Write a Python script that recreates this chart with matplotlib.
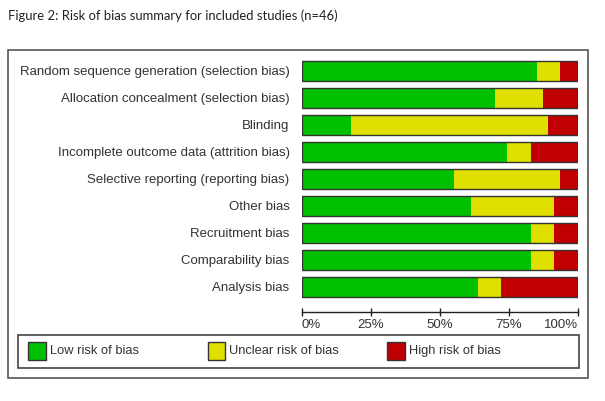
"""
Risk of bias summary (RevMan-style stacked bars) for included studies.
"""

import matplotlib
matplotlib.use('Agg')
import matplotlib.pyplot as plt
from matplotlib.patches import Rectangle

# Domains, top to bottom
domains = [
    'Random sequence generation (selection bias)',
    'Allocation concealment (selection bias)',
    'Blinding',
    'Incomplete outcome data (attrition bias)',
    'Selective reporting (reporting bias)',
    'Other bias',
    'Recruitment bias',
    'Comparability bias',
    'Analysis bias',
]

# Percent of studies per judgement
low_risk = [85.1, 70.0, 17.6, 74.3, 55.1, 61.2, 82.8, 82.8, 63.6]
unclear_risk = [8.5, 17.2, 71.4, 8.5, 38.5, 30.2, 8.6, 8.6, 8.5]
high_risk = [6.4, 12.8, 11.0, 17.2, 6.4, 8.6, 8.6, 8.6, 27.9]

categories = ['Low risk of bias', 'Unclear risk of bias', 'High risk of bias']
colors = ['#00c000', '#e0e000', '#c00000']

x_ticks = [0, 25, 50, 75, 100]
x_ticklabels = ['0%', '25%', '50%', '75%', '100%']

W, H = 605, 401
fig = plt.figure(figsize=(W / 100, H / 100), dpi=100)
fig.patch.set_facecolor('white')


def px(x, y):
    # pixel coords (top-left origin) -> figure fraction
    return x / W, 1 - y / H


# Title
tx, ty = px(8, 16)
fig.text(tx, ty, 'Figure 2: Risk of bias summary for included studies (n=46)',
         fontsize=9.4, family='Lato', color='#222222', va='center', ha='left')

# Outer frame
x0, y1 = px(7.5, 50)
_, y0 = px(0, 377.7)
fig.patches.append(Rectangle((x0, y0), 580.5 / W, y1 - y0, transform=fig.transFigure,
                             fill=False, edgecolor='#555555', linewidth=1.2))

# Bars
al, ab = px(302, 311.7)
ax = fig.add_axes([al, ab, 276 / W, (311.7 - 57) / H])
rows = list(range(len(domains)))
bar_h = 0.74

left = [0.0] * len(domains)
for vals, col in zip([low_risk, unclear_risk, high_risk], colors):
    ax.barh(rows, vals, left=left, height=bar_h, color=col, edgecolor='none')
    left = [l + v for l, v in zip(left, vals)]
ax.barh(rows, left, height=bar_h, fill=False, edgecolor='#333333', linewidth=1.0)

ax.set_xlim(0, 100)
ax.set_ylim(8.926, -0.507)
for s in ['top', 'right', 'left']:
    ax.spines[s].set_visible(False)
ax.spines['bottom'].set_linewidth(1.0)
ax.spines['bottom'].set_color('#222222')

ax.set_yticks(rows)
ax.set_yticklabels(domains, fontsize=9.55, family='Liberation Sans', color='#333333')
ax.tick_params(axis='y', length=0, pad=9)

ax.set_xticks(x_ticks)
ax.set_xticklabels(x_ticklabels, fontsize=9.5, family='Liberation Sans', color='#333333')
ax.tick_params(axis='x', direction='inout', length=6, width=1, color='#222222', pad=2.5)
xl = ax.get_xticklabels()
xl[0].set_ha('left')
xl[-1].set_ha('right')

# Legend box
lx0, ly1 = px(17.7, 335)
_, ly0 = px(0, 368.3)
fig.patches.append(Rectangle((lx0, ly0), 561.6 / W, ly1 - ly0, transform=fig.transFigure,
                             fill=False, edgecolor='#444444', linewidth=1.2))

sq_x = [28.3, 207.7, 387.3]
for sx, col, name in zip(sq_x, colors, categories):
    rx, ry = px(sx, 360)
    fig.patches.append(Rectangle((rx, ry), 17.4 / W, 17.7 / H, transform=fig.transFigure,
                                 facecolor=col, edgecolor='#333333', linewidth=1.0))
    lx, ly = px(sx + 21.5, 351)
    fig.text(lx, ly, name, fontsize=9.3, family='Liberation Sans', color='#333333',
             va='center', ha='left')

plt.savefig('out.png', dpi=100)
